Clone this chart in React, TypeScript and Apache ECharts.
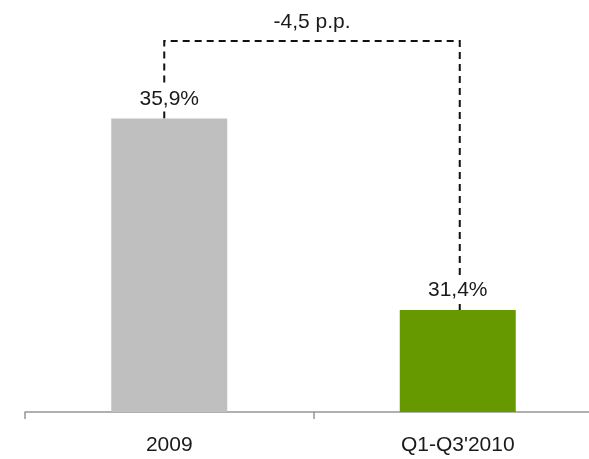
import React, { useEffect, useRef } from "react";
import * as echarts from "echarts";

const categories = ["2009", "Q1-Q3'2010"];
const values = [35.9, 31.4];
const valueLabels = ["35,9%", "31,4%"];
const barColors = ["#bfbfbf", "#669900"];
const diffLabel = "-4,5 p.p.";

const FONT = "'Liberation Sans', Arial, sans-serif";

export default function App() {
  const ref = useRef<HTMLDivElement>(null);
  useEffect(() => {
    if (!ref.current) return;
    const chart = echarts.init(ref.current, null, { renderer: "svg" });
    chart.setOption({
      animation: false,
      grid: { left: 25, top: 8, right: 1, bottom: 47, containLabel: false },
      xAxis: {
        type: "category",
        data: categories,
        axisLine: { lineStyle: { color: "#969696", width: 1.5 } },
        axisTick: { show: true, length: 7, lineStyle: { color: "#969696", width: 1.5 } },
        axisLabel: { fontSize: 21, color: "#1a1a1a", fontFamily: FONT, margin: 21 },
      },
      yAxis: { type: "value", min: 29, max: 38.5, show: false, splitLine: { show: false } },
      series: [
        {
          type: "bar",
          barWidth: 116,
          z: 5,
          data: values.map((v, i) => ({ value: v, itemStyle: { color: barColors[i] } })),
          label: {
            show: true,
            position: "top",
            distance: 8,
            fontSize: 21,
            color: "#1a1a1a",
            fontFamily: FONT,
            backgroundColor: "#ffffff",
            padding: [3, 2],
            formatter: (p: any) => valueLabels[p.dataIndex],
          },
        },
      ],
    });
    const p0 = chart.convertToPixel({ gridIndex: 0 }, [0, values[0]]) as number[];
    const p1 = chart.convertToPixel({ gridIndex: 0 }, [1, values[1]]) as number[];
    const x0 = p0[0] - 5;
    const x1 = p1[0] + 2;
    const yTop = 41;
    const dash = { stroke: "#111", lineWidth: 2, lineDash: [7, 5] };
    chart.setOption({
      graphic: [
        { type: "polyline", z: 0, shape: { points: [[x0, p0[1]], [x0, yTop], [x1, yTop], [x1, p1[1]]] }, style: { ...dash, fill: null } },
        {
          type: "text",
          x: (x0 + x1) / 2,
          y: 20,
          style: { text: diffLabel, fontSize: 21, fill: "#1a1a1a", fontFamily: FONT, align: "center", verticalAlign: "middle" },
        },
      ],
    });
    return () => chart.dispose();
  }, []);
  return <div ref={ref} style={{ position: "fixed", left: 0, top: 0, width: 603, height: 459 }} />;
}
